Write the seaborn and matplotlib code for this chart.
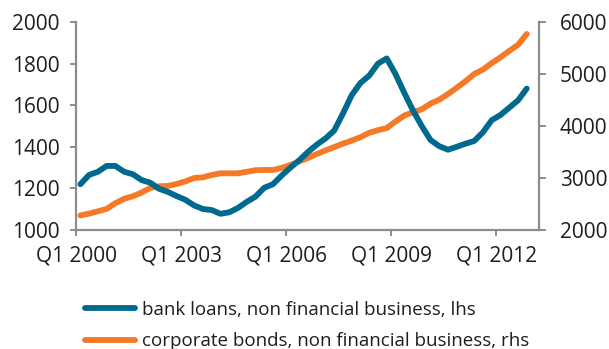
import numpy as np
import pandas as pd
import matplotlib
matplotlib.use("Agg")
import matplotlib.pyplot as plt
import seaborn as sns
from matplotlib.lines import Line2D

sns.set_style("white")
plt.rcParams['font.family'] = ['Open Sans', 'DejaVu Sans']

# Quarterly data, Q1 2000 .. Q4 2012
bank_loans = [1220, 1265, 1280, 1308, 1308, 1280, 1268, 1240, 1227, 1198,
              1183, 1163, 1145, 1118, 1101, 1096, 1078, 1085, 1106, 1135,
              1160, 1203, 1220, 1262, 1300, 1335, 1375, 1410, 1440, 1478,
              1560, 1648, 1707, 1742, 1800, 1825, 1750, 1660, 1575, 1500,
              1433, 1403, 1386, 1400, 1415, 1428, 1470, 1528, 1553, 1588,
              1623, 1680]
corp_bonds = [2280, 2315, 2360, 2405, 2515, 2600, 2650, 2720, 2810, 2840,
              2848, 2885, 2935, 3000, 3013, 3058, 3090, 3090, 3090, 3118,
              3150, 3154, 3154, 3195, 3250, 3320, 3385, 3460, 3530, 3595,
              3660, 3720, 3785, 3870, 3920, 3960, 4085, 4200, 4265, 4320,
              4430, 4505, 4615, 4735, 4860, 5000, 5085, 5210, 5320, 5445,
              5560, 5770]
tick_labels = ["Q1 2000", "Q1 2003", "Q1 2006", "Q1 2009", "Q1 2012"]
series_names = ["bank loans, non financial business, lhs",
                "corporate bonds, non financial business, rhs"]

quarter = np.arange(len(bank_loans)) + 0.5
df = pd.DataFrame({"quarter": quarter, "loans": bank_loans, "bonds": corp_bonds})

blue = "#006a8e"
orange = "#f47a27"
grey = "#8c8c8c"
txt = "#1e1e1e"

fig = plt.figure(figsize=(6.09, 3.49), dpi=100)
ax = fig.add_axes([76/609, 1-230/349, (539-76)/609, (230-22)/349])
ax2 = ax.twinx()

sns.lineplot(data=df, x="quarter", y="loans", ax=ax, color=blue, linewidth=4.2,
             solid_capstyle="round", solid_joinstyle="round")
sns.lineplot(data=df, x="quarter", y="bonds", ax=ax2, color=orange, linewidth=4.2,
             solid_capstyle="round", solid_joinstyle="round")
ax.set_zorder(ax2.get_zorder() + 1)
ax.patch.set_visible(False)

ax.set_xlim(0, 52.9)
ax.set_ylim(1000, 2000)
ax2.set_ylim(2000, 6000)
ax.set_yticks(np.arange(1000, 2001, 200))
ax2.set_yticks(np.arange(2000, 6001, 1000))
ax.set_xticks([0, 12, 24, 36, 48])
ax.set_xticklabels(tick_labels)
ax.set_xlabel("")
ax.set_ylabel("")
ax2.set_ylabel("")

for a in (ax, ax2):
    for s in a.spines.values():
        s.set_visible(False)
ax.spines["left"].set_visible(True)
ax.spines["bottom"].set_visible(True)
ax2.spines["right"].set_visible(True)
for s in (ax.spines["left"], ax.spines["bottom"], ax2.spines["right"]):
    s.set_color(grey)
    s.set_linewidth(1.6)

ax.tick_params(axis="y", direction="out", length=4, width=1.4, color=grey,
               labelsize=15, labelcolor=txt, pad=8, left=True)
ax.tick_params(axis="x", direction="out", length=4, width=1.4, color=grey,
               labelsize=15, labelcolor=txt, pad=7.5, bottom=True)
ax2.tick_params(axis="y", direction="out", length=5, width=1.4, color=grey,
                labelsize=15, labelcolor=txt, pad=10, right=True)

handles = [Line2D([0], [0], color=blue, lw=4.2, solid_capstyle="round"),
           Line2D([0], [0], color=orange, lw=4.2, solid_capstyle="round")]
fig.legend(handles, series_names, loc="upper left", bbox_to_anchor=(85/609, 1-301/349),
           frameon=False, fontsize=13.5, handlelength=2.67, handletextpad=0.37,
           labelspacing=0.72, labelcolor=txt, borderaxespad=0, borderpad=0)

fig.savefig("out.png", dpi=100)
